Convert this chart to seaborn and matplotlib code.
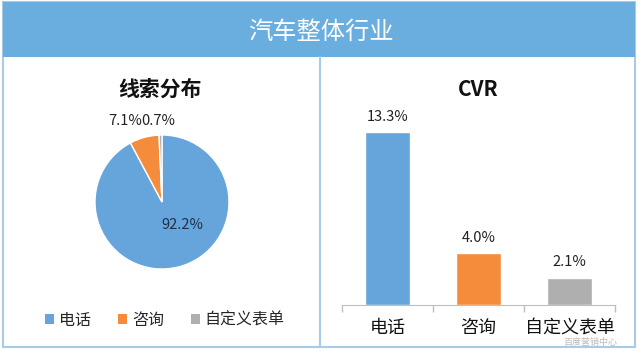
import matplotlib
matplotlib.use("Agg")
import matplotlib.pyplot as plt
from matplotlib.patches import Rectangle, Patch
from matplotlib.lines import Line2D
import seaborn as sns

# ---------------------------------------------------------------------------
# data
# ---------------------------------------------------------------------------
categories = ["电话", "咨询", "自定义表单"]
lead_share = [92.2, 7.1, 0.7]      # 线索分布 (%)
cvr_values = [13.3, 4.0, 2.1]      # CVR (%)
colors = ["#65A5DB", "#F58C3C", "#AFAFAF"]

banner_title = "汽车整体行业"
pie_title = "线索分布"
bar_title = "CVR"

# ---------------------------------------------------------------------------
# plot
# ---------------------------------------------------------------------------
sns.set_style("white")
plt.rcParams["font.family"] = ["Noto Sans CJK SC", "DejaVu Sans"]

W, H = 640, 351
fig = plt.figure(figsize=(W / 100, H / 100), dpi=100)


def px(x, y, w, h):
    # pixel box (from top-left) -> figure fraction rect
    return [x / W, 1 - (y + h) / H, w / W, h / H]


border = "#A9CBE8"
fig.patches.append(Rectangle((3 / W, 1 - 347 / H), 632 / W, 345 / H,
                             transform=fig.transFigure, fill=False,
                             edgecolor=border, linewidth=1.5))
fig.patches.append(Rectangle((3 / W, 1 - 57 / H), 632 / W, 55 / H,
                             transform=fig.transFigure, facecolor="#6AADDF",
                             edgecolor="none"))
fig.lines.append(Line2D([320 / W, 320 / W], [1 - 347 / H, 1 - 57 / H],
                        transform=fig.transFigure, color=border, linewidth=1.5))
fig.text(321 / W, 1 - 32 / H, banner_title, ha="center", va="center",
         fontsize=17.5, color="white")

# pie ----------------------------------------------------------------------
ax1 = fig.add_axes(px(78.25, 118.25, 167.5, 167.5))
wedges, texts, autotexts = ax1.pie(
    lead_share, colors=colors, startangle=90, counterclock=False,
    autopct="%.1f%%", pctdistance=0.5,
    wedgeprops=dict(edgecolor="white", linewidth=1),
    textprops=dict(fontsize=10.5, color="#222222"))
ax1.set_xlim(-1.25, 1.25)
ax1.set_ylim(-1.25, 1.25)
autotexts[0].set_position((0.31, -0.34))
autotexts[0].set_color("#1F2F4A")
autotexts[1].set_position((-0.55, 1.21))
autotexts[2].set_position((-0.06, 1.21))
for t in autotexts:
    t.set_ha("center")
    t.set_va("center")
fig.text(160 / W, 1 - 89 / H, pie_title, ha="center", va="center",
         fontsize=15, fontweight="bold", color="#111111")

handles = [Patch(facecolor=c, edgecolor="none") for c in colors]
fig.legend(handles, categories, loc="center", bbox_to_anchor=(165 / W, 1 - 320 / H),
           ncol=3, frameon=False, fontsize=11.5, handlelength=0.55,
           handleheight=0.55, handletextpad=0.3, columnspacing=1.7)

# bars ---------------------------------------------------------------------
ax2 = fig.add_axes(px(342, 110, 273, 195))
sns.barplot(x=categories, y=cvr_values, hue=categories, palette=colors,
            width=0.5, saturation=1, legend=False, ax=ax2)
ax2.set_ylim(0, 15)
ax2.set_xlim(-0.5, 2.5)
for c, v in zip(ax2.containers, cvr_values):
    ax2.bar_label(c, labels=[f"{v:.1f}%"], padding=6, fontsize=10.5, color="#222222")
sns.despine(ax=ax2, left=True)
ax2.spines["bottom"].set_color("#BFBFBF")
ax2.set_yticks([])
ax2.set_xticks([-0.5, 0.5, 1.5, 2.5], minor=True)
ax2.tick_params(axis="x", which="major", bottom=False, length=0, pad=10,
                labelsize=13, labelcolor="#111111")
ax2.tick_params(axis="x", which="minor", bottom=True, length=5, width=1,
                color="#BFBFBF", direction="out")
ax2.set(xlabel="", ylabel="")
fig.text(478.5 / W, 1 - 89 / H, bar_title, ha="center", va="center",
         fontsize=15, fontweight="bold", color="#111111")

# watermark (kept just below the tick label so the two stay readable)
fig.text(590 / W, 1 - 343 / H, "百度营销中心", ha="center", va="center",
         fontsize=6.5, color="#555555", alpha=0.4)

plt.savefig("out.png", dpi=100)
